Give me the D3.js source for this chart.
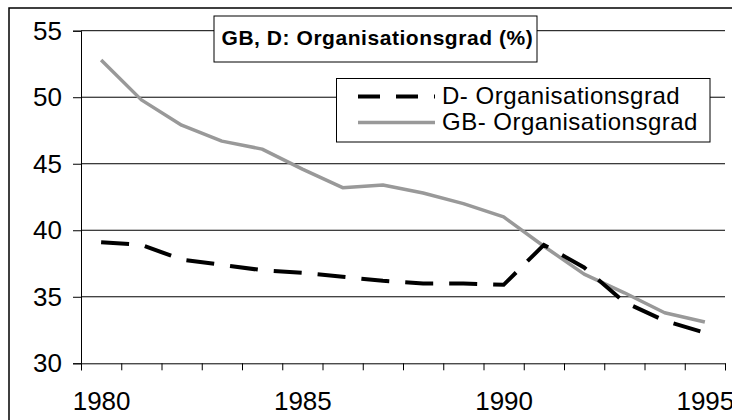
<!DOCTYPE html>
<html>
<head>
<meta charset="utf-8">
<script src="https://cdn.jsdelivr.net/npm/d3@7"></script>
<style>
  html, body { margin: 0; padding: 0; background: #fff; }
  svg { display: block; font-family: "Liberation Sans", Arial, sans-serif; }
</style>
</head>
<body>
<svg id="chart" width="732" height="420"></svg>
<script>
const years = [1980,1981,1982,1983,1984,1985,1986,1987,1988,1989,1990,1991,1992,1993,1994,1995];
const gbValues = [52.8, 49.8, 47.9, 46.7, 46.1, 44.6, 43.2, 43.4, 42.8, 42.0, 41.0, 38.8, 36.7, 35.3, 33.8, 33.1];
const dValues  = [39.1, 38.9, 37.8, 37.4, 37.0, 36.8, 36.5, 36.2, 36.0, 36.0, 35.9, 38.9, 37.2, 34.6, 33.2, 32.3];
const yTicks = [30, 35, 40, 45, 50, 55];
const xLabelYears = [1980, 1985, 1990, 1995];
const titleText = "GB, D: Organisationsgrad (%)";
const seriesNames = ["D- Organisationsgrad", "GB- Organisationsgrad"];

const svg = d3.select("#chart");
const L = 81, R = 725, T = 30.7, B = 363.3;

const x = d3.scalePoint().domain(years).range([L, R]).padding(0.5);
const xb = d3.scaleLinear().domain([0, years.length]).range([L, R]);
const y = d3.scaleLinear().domain([30, 55]).range([B, T]);

// outer frame (extends beyond the picture on right/bottom)
svg.append("rect").attr("x", 9).attr("y", 8).attr("width", 760).attr("height", 460)
  .attr("fill", "none").attr("stroke", "#000").attr("stroke-width", 1.5);

// gridlines
svg.append("g").selectAll("line").data(yTicks.filter(v => v !== 30)).join("line")
  .attr("x1", L).attr("x2", R).attr("y1", d => y(d)).attr("y2", d => y(d))
  .attr("stroke", "#000").attr("stroke-width", 1);

// y axis
const yAxis = svg.append("g").attr("transform", `translate(${L},0)`)
  .call(d3.axisLeft(y).tickValues(yTicks).tickSize(8).tickPadding(11).tickFormat(d3.format("d")));
yAxis.select(".domain").attr("stroke", "#000");
yAxis.selectAll(".tick line").attr("stroke", "#000");
yAxis.selectAll("text").attr("font-size", 26).attr("fill", "#000").attr("font-family", "Liberation Sans, Arial, sans-serif");

// x axis ticks at category boundaries
const xAxis = svg.append("g").attr("transform", `translate(0,${B})`)
  .call(d3.axisBottom(xb).tickValues(d3.range(0, years.length + 1)).tickSize(7).tickFormat(""));
xAxis.select(".domain").attr("stroke", "#000");
xAxis.selectAll(".tick line").attr("stroke", "#000");

// x labels
const xLab = svg.append("g").attr("transform", `translate(0,${B})`)
  .call(d3.axisBottom(x).tickValues(xLabelYears).tickSize(0).tickPadding(28).tickFormat(d3.format("d")));
xLab.select(".domain").remove();
xLab.selectAll("text").attr("font-size", 26).attr("fill", "#000").attr("font-family", "Liberation Sans, Arial, sans-serif");

// lines
const line = d3.line().x((d, i) => x(years[i])).y(d => y(d));
svg.append("path").datum(gbValues).attr("d", line)
  .attr("fill", "none").attr("stroke", "#999").attr("stroke-width", 3.5).attr("stroke-linejoin", "round");
svg.append("path").datum(dValues).attr("d", line)
  .attr("fill", "none").attr("stroke", "#000").attr("stroke-width", 4)
  .attr("stroke-dasharray", "28,16");

// title box
svg.append("rect").attr("x", 214).attr("y", 16).attr("width", 323).attr("height", 46)
  .attr("fill", "#fff").attr("stroke", "#000").attr("stroke-width", 1);
svg.append("text").attr("x", 221.5).attr("y", 45).attr("font-size", 21).attr("font-weight", "bold")
  .attr("letter-spacing", 0.55).attr("fill", "#000").text(titleText);

// legend box
svg.append("rect").attr("x", 336.5).attr("y", 78.5).attr("width", 373.5).attr("height", 63.5)
  .attr("fill", "#fff").attr("stroke", "#000").attr("stroke-width", 1);
const legRows = [
  { name: seriesNames[0], color: "#000", w: 4, dash: "22,16", yy: 96.5 },
  { name: seriesNames[1], color: "#999", w: 3.5, dash: null, yy: 122.5 }
];
legRows.forEach(r => {
  svg.append("line").attr("x1", 358).attr("x2", 435).attr("y1", r.yy).attr("y2", r.yy)
    .attr("stroke", r.color).attr("stroke-width", r.w)
    .attr("stroke-dasharray", r.dash);
  svg.append("text").attr("x", 442).attr("y", r.yy).attr("dy", "0.3em")
    .attr("font-size", 24).attr("letter-spacing", 0.5).attr("fill", "#000").text(r.name);
});
</script>
</body>
</html>
